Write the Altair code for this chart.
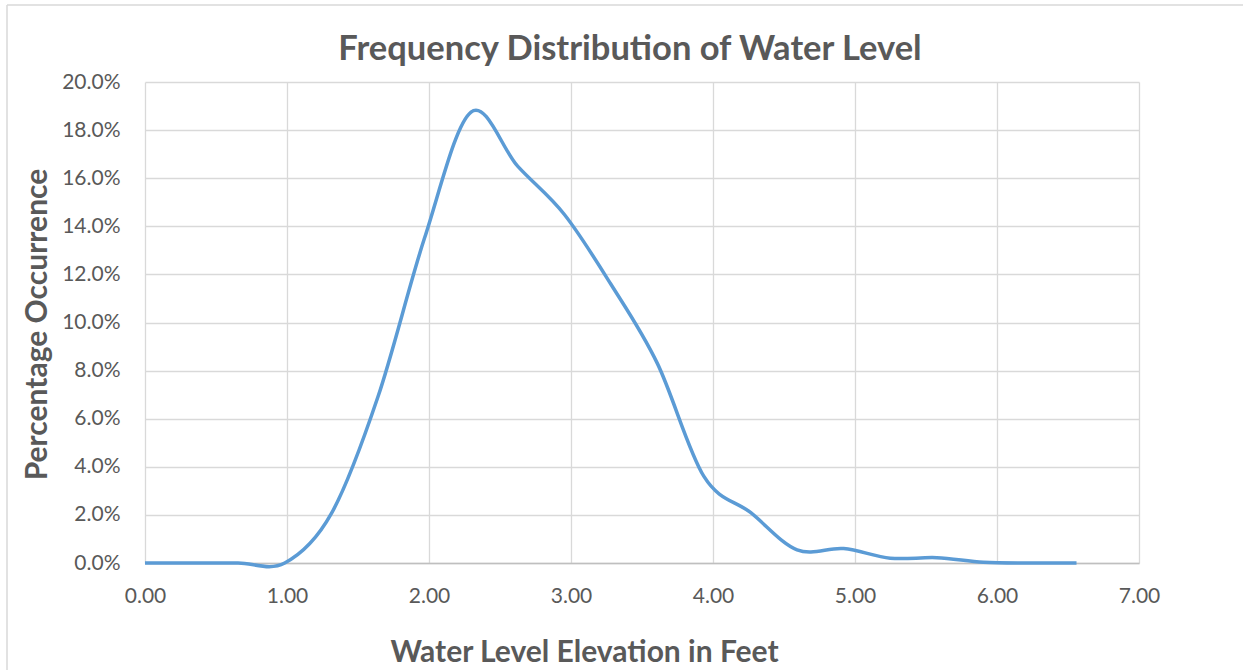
import altair as alt
import pandas as pd

# Water level bins (ft) and share of observations in each bin (%)
elevation_ft = [0.000, 0.328, 0.656, 0.984, 1.312, 1.640, 1.968, 2.296, 2.624, 2.952,
                3.280, 3.608, 3.936, 4.264, 4.592, 4.920, 5.248, 5.576, 5.904, 6.232, 6.560]
occurrence_pct = [0.0, 0.0, 0.0, 0.0, 2.05, 6.9, 13.5, 18.75, 16.5, 14.5,
                  11.6, 8.3, 3.6, 2.1, 0.55, 0.6, 0.2, 0.22, 0.03, 0.0, 0.0]

x_ticks = [0, 1, 2, 3, 4, 5, 6, 7]
y_ticks = [0, 2, 4, 6, 8, 10, 12, 14, 16, 18, 20]

chart_title = "Frequency Distribution of Water Level"

TEXT = "#595959"
GRID = "#d9d9d9"
FONT = "Lato"

df = pd.DataFrame({"elevation": elevation_ft, "pct": occurrence_pct})

line = alt.Chart(df).mark_line(
    interpolate="cardinal", tension=0, color="#5b9bd5", strokeWidth=3.5
).encode(
    x=alt.X(
        "elevation:Q",
        scale=alt.Scale(domain=[0, 7], nice=False, zero=False),
        axis=alt.Axis(
            values=x_ticks, format=".2f", title="Water Level Elevation in Feet",
            grid=True, gridColor=GRID, gridWidth=1.3,
            domainColor="#bfbfbf", domainWidth=1.5,
            ticks=False, tickSize=0, labelPadding=39, labelBaseline="alphabetic",
            labelFlush=False, labelOverlap=False,
            labelFont=FONT, labelFontSize=21, labelColor=TEXT,
            titleFont=FONT, titleFontSize=30, titleFontWeight="bold", titleColor=TEXT,
            titleX=439, titleY=98, titleAlign="center", titleBaseline="alphabetic",
        ),
    ),
    y=alt.Y(
        "pct:Q",
        scale=alt.Scale(domain=[0, 20], nice=False),
        axis=alt.Axis(
            values=y_ticks, labelExpr="format(datum.value, '.1f') + '%'",
            title="Percentage Occurrence",
            grid=True, gridColor=GRID, gridWidth=1.3, domain=False,
            ticks=False, tickSize=0, labelPadding=25,
            labelFlush=False, labelOverlap=False,
            labelFont=FONT, labelFontSize=21, labelColor=TEXT,
            titleFont=FONT, titleFontSize=30, titleFontWeight="bold", titleColor=TEXT,
            titleX=-99, titleY=242, titleAngle=270, titleAlign="center",
            titleBaseline="alphabetic",
        ),
    ),
)

# Thin frame along the top and left of the chart area
frame = pd.DataFrame({"edge": ["top"]})
top_edge = alt.Chart(frame).mark_rule(color=GRID, strokeWidth=1.5).encode(
    x=alt.value(-138), x2=alt.value(1098), y=alt.value(-77)
)
left_edge = alt.Chart(frame).mark_rule(color=GRID, strokeWidth=1.5).encode(
    x=alt.value(-138), y=alt.value(-77), y2=alt.value(588)
)

# Chart heading
heading = alt.Chart(pd.DataFrame({"label": [chart_title]})).mark_text(
    font=FONT, fontSize=34.5, fontWeight="bold", color=TEXT,
    align="center", baseline="alphabetic",
).encode(
    text="label:N", x=alt.value(485), y=alt.value(-22)
)

chart = alt.layer(top_edge, left_edge, line, heading).properties(
    width=994,
    height=481,
    padding={"left": 145, "top": 82, "right": 114, "bottom": 107},
    autosize=alt.AutoSizeParams(type="none"),
    background="white",
).configure_view(stroke=None)

chart.save("out.html", embed_options={"renderer": "svg", "actions": False})
